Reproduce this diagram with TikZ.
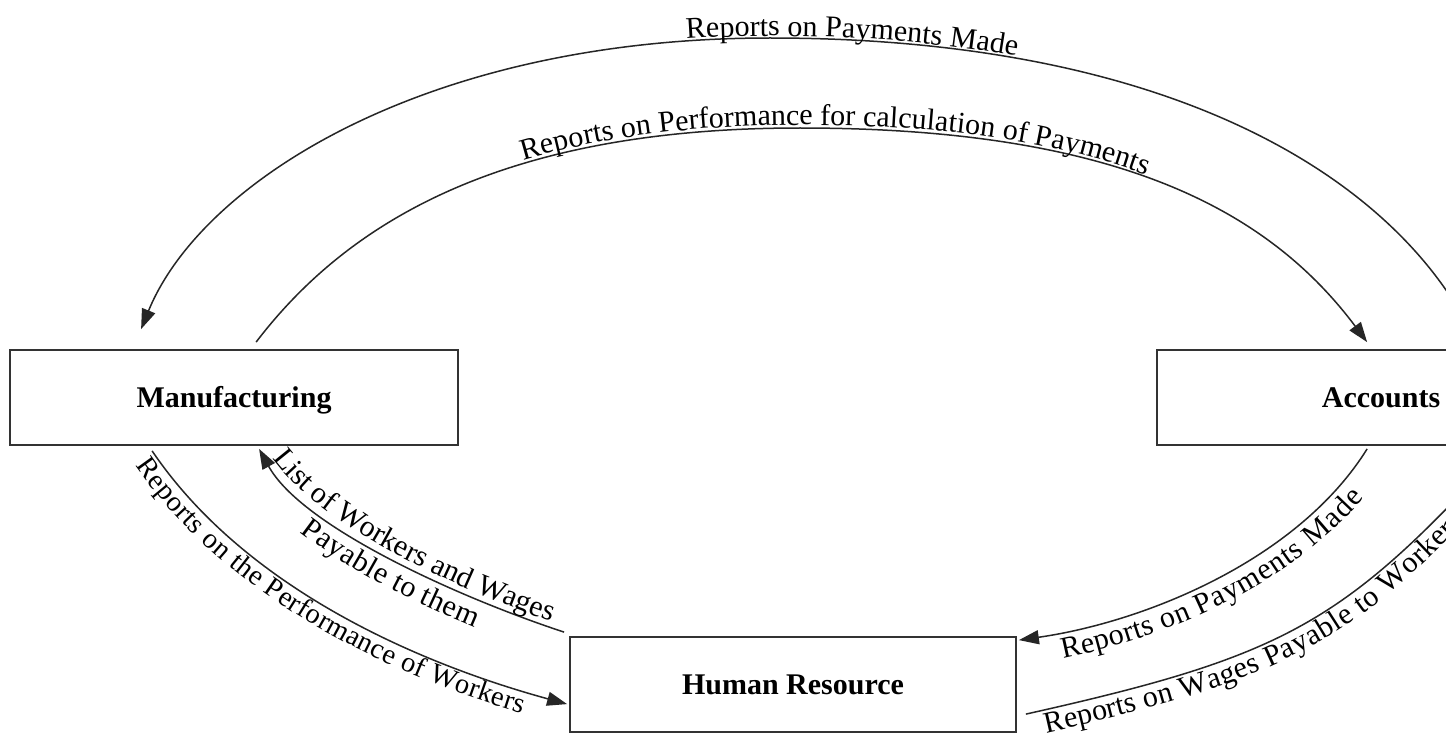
\documentclass[tikz,border=0pt]{standalone}
\usepackage{fontspec}
\setmainfont{Liberation Serif}
\usetikzlibrary{arrows.meta,calc,decorations.text}
\newcommand\lblfont{\fontsize{15}{18}\selectfont}
\newcommand\lblsmall{\fontsize{14.2}{17}\selectfont}
\begin{document}
\begin{tikzpicture}[x=0.5pt,y=-0.5pt,
  box/.style={draw=black!80, line width=0.9pt, minimum width=224pt, minimum height=47.5pt,
    inner sep=0pt, text height=10pt, text depth=0pt, font=\fontsize{15}{18}\selectfont\bfseries},
  flow/.style={draw=black!85, line width=0.75pt, -{Triangle[length=10pt,width=7pt]}},
  lbl/.style={postaction={decorate, decoration={text along path, #1}}}
]
\path[use as bounding box, fill=white] (0,0) rectangle (1446,738);
\clip (0,0) rectangle (1446,738);

\node[box] (M) at (234,397.5) {Manufacturing};
\node[box] (A) at (1381,397.5) {Accounts};
\node[box, minimum width=223pt] (H) at (793,684.5) {Human Resource};

\coordinate (c1s) at ($(A.north west)+(323,0)$);
\coordinate (c1e) at ($(M.north west)+(132,-20)$);
\coordinate (c2s) at ($(M.north west)+(247,-7)$);
\coordinate (c2e) at ($(A.north west)+(211,-7)$);
\coordinate (c3s) at ($(H.north west)+(-5,-4)$);
\coordinate (c3e) at ($(M.south west)+(250,3)$);
\coordinate (c4s) at ($(M.south west)+(143,5)$);
\coordinate (c4e) at ($(H.north west)+(-2,68)$);
\coordinate (c5s) at ($(A.south west)+(211,3)$);
\coordinate (c5e) at ($(H.north east)+(2,4)$);
\coordinate (c6s) at ($(H.north east)+(9,78)$);
\coordinate (c6e) at ($(A.south west)+(346,0)$);

% Accounts -> Manufacturing (outer)
\draw[flow, lbl={text={|\lblfont|Reports on Payments Made}, reverse path, raise=1pt,
    text align={left indent=323pt}}]
  (c1s) .. controls (1410,190) and (1190,38) .. (770,38)
        .. controls (425,38) and (201,182) .. (c1e);

% Manufacturing -> Accounts (inner)
\draw[flow, lbl={text={|\lblfont|Reports on Performance for calculation of Payments}, raise=1.5pt,
    text align={left indent=164pt}}]
  (c2s) .. controls (347,223) and (501,128) .. (800,128)
        .. controls (1112,128) and (1266,207) .. (c2e);

% Human Resource -> Manufacturing
\draw[flow, lbl={text={|\lblfont|List of Workers and Wages}, reverse path, raise=3pt, text align=center},
    lbl={text={|\lblfont|Payable to them}, reverse path, raise=-13.5pt, text align=center}]
  (c3s) .. controls (460,598) and (302,527) .. (c3e);

% Manufacturing -> Human Resource
\draw[flow, lbl={text={|\lblsmall|Reports on the Performance of Workers}, raise=-11pt,
    text align={left indent=1pt}}]
  (c4s) .. controls (247,591) and (424,665) .. (c4e);

% Accounts -> Human Resource
\draw[flow, lbl={text={|\lblfont|Reports on Payments Made}, reverse path, raise=-13pt,
    text align=center}]
  (c5s) .. controls (1298,560) and (1145,622) .. (c5e);

% Human Resource -> Accounts
\draw[flow, lbl={text={|\lblfont|Reports on Wages Payable to Workers}, raise=-11.5pt,
    text align={left indent=8pt}}]
  (c6s) .. controls (1268,660) and (1335,628) .. (1472,482) -- (c6e);
\end{tikzpicture}
\end{document}
